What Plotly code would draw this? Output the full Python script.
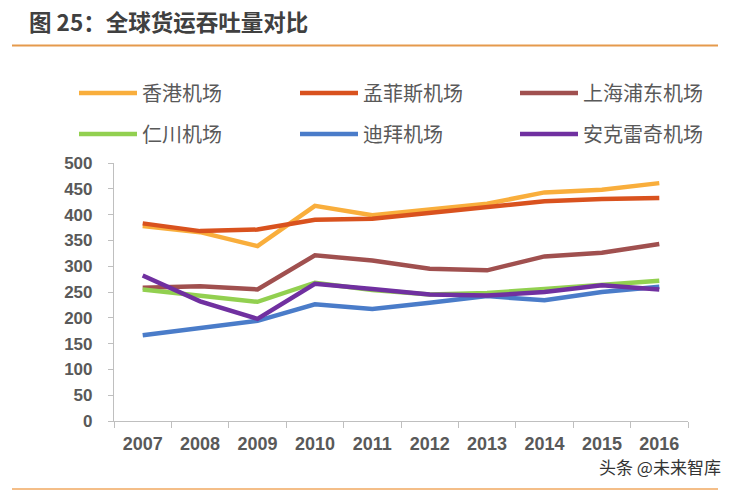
import plotly.graph_objects as go

years = ["2007", "2008", "2009", "2010", "2011", "2012", "2013", "2014", "2015", "2016"]
hong_kong = [378, 366, 339, 417, 399, 410, 421, 443, 448, 461]
memphis = [383, 368, 371, 390, 392, 403, 415, 426, 430, 432]
shanghai = [258, 261, 255, 321, 311, 295, 292, 319, 326, 343]
incheon = [255, 242, 231, 268, 254, 245, 248, 256, 263, 272]
dubai = [166, 181, 194, 226, 217, 229, 242, 234, 250, 260]
anchorage = [282, 232, 198, 266, 256, 245, 243, 250, 263, 255]

names = ["香港机场", "孟菲斯机场", "上海浦东机场", "仁川机场", "迪拜机场", "安克雷奇机场"]
series = [hong_kong, memphis, shanghai, incheon, dubai, anchorage]
colors = ["#F9AE3C", "#D9521E", "#A0504F", "#92D050", "#4A7CC9", "#7030A0"]

W, H = 739, 491
ml, mr, mt, mb = 114, 51, 163, 70

legend_ids = ["legend", "legend2", "legend3", "legend4", "legend5", "legend6"]
legend_px = [(74, 93), (295, 93), (515, 93), (74, 134), (295, 134), (515, 134)]

fig = go.Figure()
for nm, vals, col, lg in zip(names, series, colors, legend_ids):
    fig.add_trace(go.Scatter(x=years, y=vals, name=nm, mode="lines",
                             line=dict(color=col, width=4.5), legend=lg))

cjk = "Noto Sans CJK SC"
legend_common = dict(orientation="h", xref="container", yref="container",
                     xanchor="left", yanchor="middle",
                     font=dict(family=cjk, size=20, color="#595959"),
                     bgcolor="rgba(0,0,0,0)", itemwidth=58)

pw = W - ml - mr
ph = H - mt - mb
def px_x(x):
    return (x - ml) / pw
def px_y(y):
    return (H - mb - y) / ph

legend_layout = {lid: dict(x=px / W, y=1 - py / H, **legend_common)
                 for lid, (px, py) in zip(legend_ids, legend_px)}

fig.update_layout(
    width=W, height=H,
    margin=dict(l=ml, r=mr, t=mt, b=mb, autoexpand=False),
    paper_bgcolor="white", plot_bgcolor="white",
    title=dict(text="图 25：全球货运吞吐量对比", xref="container", yref="container",
               x=29 / W, y=1 - 23 / H, xanchor="left", yanchor="middle",
               font=dict(family=cjk, size=22.5, color="#404040", weight="bold")),
    xaxis=dict(type="category", range=[-0.5, 9.5], showline=True, linecolor="#BFBFBF",
               linewidth=1.2, ticks="outside", tickson="boundaries", ticklen=6,
               tickcolor="#BFBFBF", showgrid=False, zeroline=False, ticklabelstandoff=6,
               tickfont=dict(family="Liberation Sans", size=18, color="#595959", weight="bold")),
    yaxis=dict(range=[0, 500], dtick=50, showline=True, linecolor="#BFBFBF", linewidth=1.2,
               ticks="outside", ticklen=5, tickcolor="#BFBFBF", showgrid=False,
               zeroline=False, ticklabelstandoff=12,
               tickfont=dict(family="Liberation Sans", size=17, color="#595959", weight="bold")),
    showlegend=True,
    **legend_layout,
)

# decorative rules
fig.add_shape(type="line", xref="paper", yref="paper",
              x0=px_x(12), x1=px_x(718), y0=px_y(45.5), y1=px_y(45.5),
              line=dict(color="#E59A4C", width=2))
fig.add_shape(type="line", xref="paper", yref="paper",
              x0=px_x(12), x1=px_x(718), y0=px_y(489), y1=px_y(489),
              line=dict(color="#F0A860", width=1.5))

fig.add_annotation(text="头条 @未来智库", xref="paper", yref="paper",
                   x=px_x(723), y=px_y(466), xanchor="right", yanchor="middle",
                   showarrow=False, font=dict(family=cjk, size=17, color="#333333"))

fig.write_html("out.html", config={"displayModeBar": False})

with open("out.html", encoding="utf-8") as f:
    html = f.read()
html = html.replace("<head>", "<head><style>html,body{margin:0;padding:0;overflow:hidden;}</style>", 1)
with open("out.html", "w", encoding="utf-8") as f:
    f.write(html)
